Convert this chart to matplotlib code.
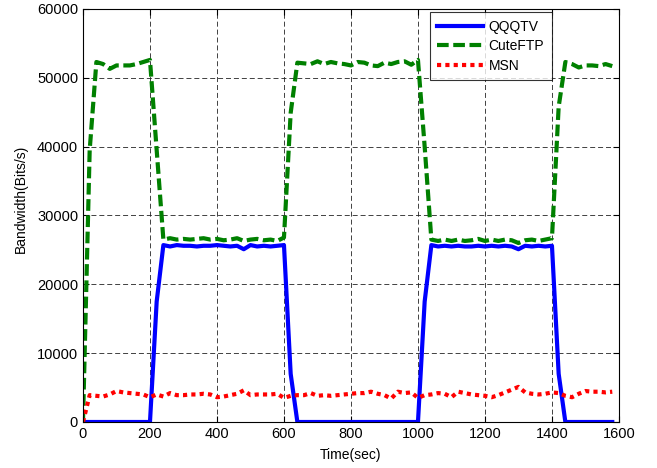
import matplotlib
matplotlib.use("Agg")
import matplotlib.pyplot as plt
import numpy as np

plt.rcParams['font.family'] = ['Liberation Sans', 'DejaVu Sans']

# time axis, one sample every 20 s
t = np.arange(0, 1600, 20)

qqqtv = [0, 0, 0, 0, 0, 0, 0, 0, 0, 0,
         0, 17500, 25700, 25500, 25700, 25600, 25600, 25500, 25600, 25600,
         25700, 25600, 25500, 25600, 25100, 25700, 25500, 25600, 25500, 25600,
         25700, 7000, 0, 0, 0, 0, 0, 0, 0, 0,
         0, 0, 0, 0, 0, 0, 0, 0, 0, 0,
         0, 17500, 25700, 25500, 25600, 25500, 25600, 25500, 25500, 25600,
         25500, 25600, 25500, 25600, 25500, 25100, 25600, 25500, 25600, 25500,
         25600, 7000, 0, 0, 0, 0, 0, 0, 0, 0]

cuteftp = [0, 39500, 52300, 52000, 51300, 51800, 51800, 51800, 52000, 52300,
           52600, 39500, 26500, 26700, 26500, 26600, 26500, 26600, 26700, 26500,
           26600, 26400, 26500, 26700, 26300, 26500, 26600, 26400, 26500, 26300,
           26800, 44900, 52200, 52100, 52000, 52400, 52000, 52300, 52100, 52000,
           51800, 52300, 52200, 51800, 51700, 52200, 52000, 52300, 52400, 51900,
           52600, 40000, 26500, 26300, 26500, 26300, 26500, 26300, 26400, 26600,
           26300, 26500, 26300, 26500, 26400, 26000, 26400, 26500, 26300, 26500,
           26700, 45800, 52300, 52000, 51500, 51800, 51800, 51700, 52000, 51700]

msn = [0, 3900, 3800, 3700, 4000, 4500, 4300, 4200, 4100, 4000,
       3600, 4000, 3700, 4200, 3900, 3900, 4000, 4000, 4100, 4000,
       3600, 3700, 3900, 4100, 4600, 3900, 4000, 4000, 4000, 4100,
       3500, 3800, 3900, 3900, 4200, 3800, 3900, 3800, 3900, 4000,
       4100, 4200, 4200, 4400, 4100, 3900, 3400, 4400, 4200, 4300,
       3500, 3900, 4000, 4200, 4100, 3600, 4400, 4200, 4000, 3900,
       3800, 3600, 3900, 4300, 4700, 5100, 4300, 4100, 4000, 4100,
       4300, 4200, 3800, 3600, 4100, 4500, 4400, 4400, 4300, 4400]

fig = plt.figure(figsize=(6.57, 4.68), dpi=100)
ax = fig.add_axes([0.1263, 0.0983, 0.8158, 0.8825])

ax.plot(t, qqqtv, color=(0, 0, 1), lw=3, label='QQQTV')
ax.plot(t, cuteftp, color=(0, 0.5, 0), lw=3, dashes=(2.8, 1.1), label='CuteFTP')
ax.plot(t, msn, color=(1, 0, 0), lw=3, dashes=(1, 1), label='MSN')

ax.set_xlim(0, 1600)
ax.set_ylim(0, 60000)
ax.set_xticks(np.arange(0, 1601, 200))
ax.set_yticks(np.arange(0, 60001, 10000))
ax.grid(True, color='#222222', lw=0.6, dashes=(6, 3.5))
ax.tick_params(direction='in', top=True, right=True, labelsize=10.5, length=4)
for s in ax.spines.values():
    s.set_linewidth(0.8)

ax.set_xlabel('Time(sec)', fontsize=10, labelpad=5)
ax.set_ylabel('Bandwidth(Bits/s)', fontsize=10,
              family=['Liberation Sans Narrow', 'Liberation Sans'])
ax.yaxis.set_label_coords(-0.103, 0.54)

leg = ax.legend(loc='upper right', bbox_to_anchor=(0.875, 0.993), borderaxespad=0,
                fancybox=False, edgecolor='black', fontsize=10, handlelength=3.3,
                labelspacing=0.4, borderpad=0.55, handletextpad=0.4)
leg.get_frame().set_linewidth(0.8)

fig.savefig('out.png', dpi=100)
